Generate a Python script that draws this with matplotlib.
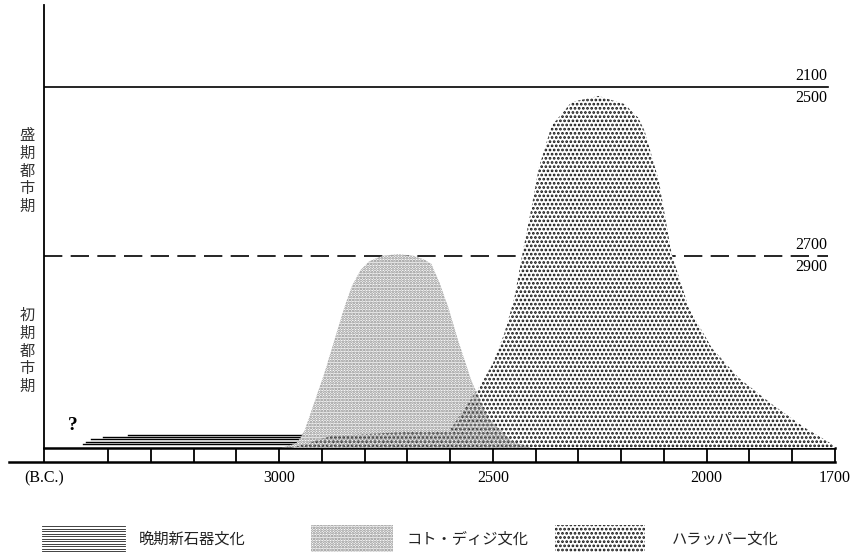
import numpy as np
import matplotlib.pyplot as plt
from matplotlib.patches import Rectangle
from matplotlib.lines import Line2D

plt.rcParams['hatch.linewidth'] = 1.3
cjk = ['Noto Sans CJK JP', 'DejaVu Sans']
serif = 'Liberation Serif'

#<---------------- data: years B.C. and relative extent (Harappa peak = 100) ---------------->
kotdiji_years = [2995, 2960, 2941, 2895, 2848, 2830, 2810, 2790, 2760, 2721, 2685, 2660,
                 2644, 2625, 2604, 2581, 2550, 2511, 2457, 2410]
kotdiji_vals = [0, 1.5, 4.8, 21.0, 39.8, 46.0, 50.5, 53.0, 54.6, 55.1, 54.6, 53.5,
                52.3, 47.0, 39.8, 30.4, 19.0, 8.5, 2.0, 0]

harappa_years = [2972, 2878, 2714, 2604, 2534, 2500, 2473, 2450, 2433, 2410, 2393,
                 2363, 2316, 2253, 2192, 2160, 2145, 2112, 2082, 2042, 1988, 1925,
                 1848, 1770, 1707, 1700]
harappa_vals = [0, 3.4, 4.5, 4.5, 17.0, 24.1, 32.7, 42.6, 54.0, 68.2, 79.5,
                91.5, 98.3, 100, 97.7, 93.8, 90.0, 75.9, 55.1, 39.8, 28.4, 19.9,
                12.5, 5.7, 1.1, 0]

# late neolithic strands: level, start, end
neo_levels = [1.05, 1.8, 2.5, 3.1, 3.8]
neo_start = [3459, 3452, 3440, 3412, 3354]
neo_end = [2965, 2960, 2955, 2950, 2940]

# phase boundaries
mature_level = 102.6   # 2100 / 2500
early_level = 54.5     # 2700 / 2900
mature_labels = ('2100', '2500')
early_labels = ('2700', '2900')

tick_years = [3550, 3000, 2500, 2000, 1700]
tick_labels = ['(B.C.)', '3000', '2500', '2000', '1700']
minor_years = np.arange(3400, 1799, -100)

legend_labels = ['晩期新石器文化', 'コト・ディジ文化', 'ハラッパー文化']

#<---------------------------------- figure ---------------------------------->
W, H = 855, 557
fig = plt.figure(figsize=(W / 100, H / 100), dpi=100)
ax = fig.add_axes([44 / W, 109 / H, 791 / W, 443 / H])
ax.set_xlim(3550, 1700)
ax.set_ylim(0, 443 / 3.52)
for s in ['top', 'right']:
    ax.spines[s].set_visible(False)
ax.spines['left'].set_linewidth(1.3)
ax.spines['bottom'].set_linewidth(1.8)
ax.set_yticks([])
ax.set_xticks(tick_years)
ax.set_xticklabels(tick_labels, fontfamily=serif, fontsize=11.5)
ax.set_xticks(minor_years, minor=True)
ax.tick_params(axis='x', which='both', direction='out', length=10, width=1.3, pad=6)

# band bottom line
band = -14 / 3.52
ax.plot([3632, 1700], [band, band], color='black', lw=1.8, clip_on=False)

# phase lines
ax.plot([3550, 1716], [mature_level] * 2, color='black', lw=1.2, zorder=1)
ax.plot([3550, 1716], [early_level] * 2, color='black', lw=1.2, zorder=1,
        dashes=(11, 5))
for lvl, (up, dn) in [(mature_level, mature_labels), (early_level, early_labels)]:
    ax.annotate(up, (1718, lvl), xytext=(0, 2), textcoords='offset points',
                ha='right', va='bottom', fontfamily=serif, fontsize=11.5)
    ax.annotate(dn, (1718, lvl), xytext=(0, -2), textcoords='offset points',
                ha='right', va='top', fontfamily=serif, fontsize=11.5)

# late neolithic
for lvl, x0, x1 in zip(neo_levels, neo_start, neo_end):
    ax.plot([x0, x1], [lvl, lvl], color='black', lw=1.0, zorder=1.5)
ax.text(3482, 6.5, '?', fontfamily=serif, fontsize=14, fontweight='bold',
        ha='center', va='center')

# cultures
ax.fill_between(kotdiji_years, kotdiji_vals, color='white', lw=0, zorder=2)
ax.fill_between(harappa_years, harappa_vals, facecolor='white', edgecolor='#111111',
                hatch='....', lw=0, zorder=3)
ax.fill_between(kotdiji_years, kotdiji_vals, facecolor='none', edgecolor='#858585',
                hatch='......', lw=0, zorder=4)

# phase names
fig.text(27 / W, 1 - 171 / H, '\n'.join('盛期都市期'), family=cjk, fontsize=11,
         ha='center', va='center', linespacing=1.05, color='#333333')
fig.text(27 / W, 1 - 351 / H, '\n'.join('初期都市期'), family=cjk, fontsize=11,
         ha='center', va='center', linespacing=1.05, color='#333333')

# legend
# late neolithic swatch: thin stacked rules
for k in range(11):
    yy = 1 - (526 + k * 2.5) / H
    fig.add_artist(Line2D([42 / W, 125 / W], [yy, yy], transform=fig.transFigure,
                          color='#222222', lw=0.6))
boxes = [(311, 393, '......', '#858585', 407),
         (555, 645, '....', '#111111', 672)]
for x0, x1, hatch, col, tx in boxes:
    fig.add_artist(Rectangle((x0 / W, 1 - 552 / H), (x1 - x0) / W, 27 / H,
                             transform=fig.transFigure, facecolor='white',
                             edgecolor=col, hatch=hatch, lw=0))
for tx, lab in zip([139, 407, 672], legend_labels):
    fig.text(tx / W, 1 - 539 / H, lab, family=cjk, fontsize=11, ha='left',
             va='center', color='#222222')

plt.savefig('out.png', dpi=100)
